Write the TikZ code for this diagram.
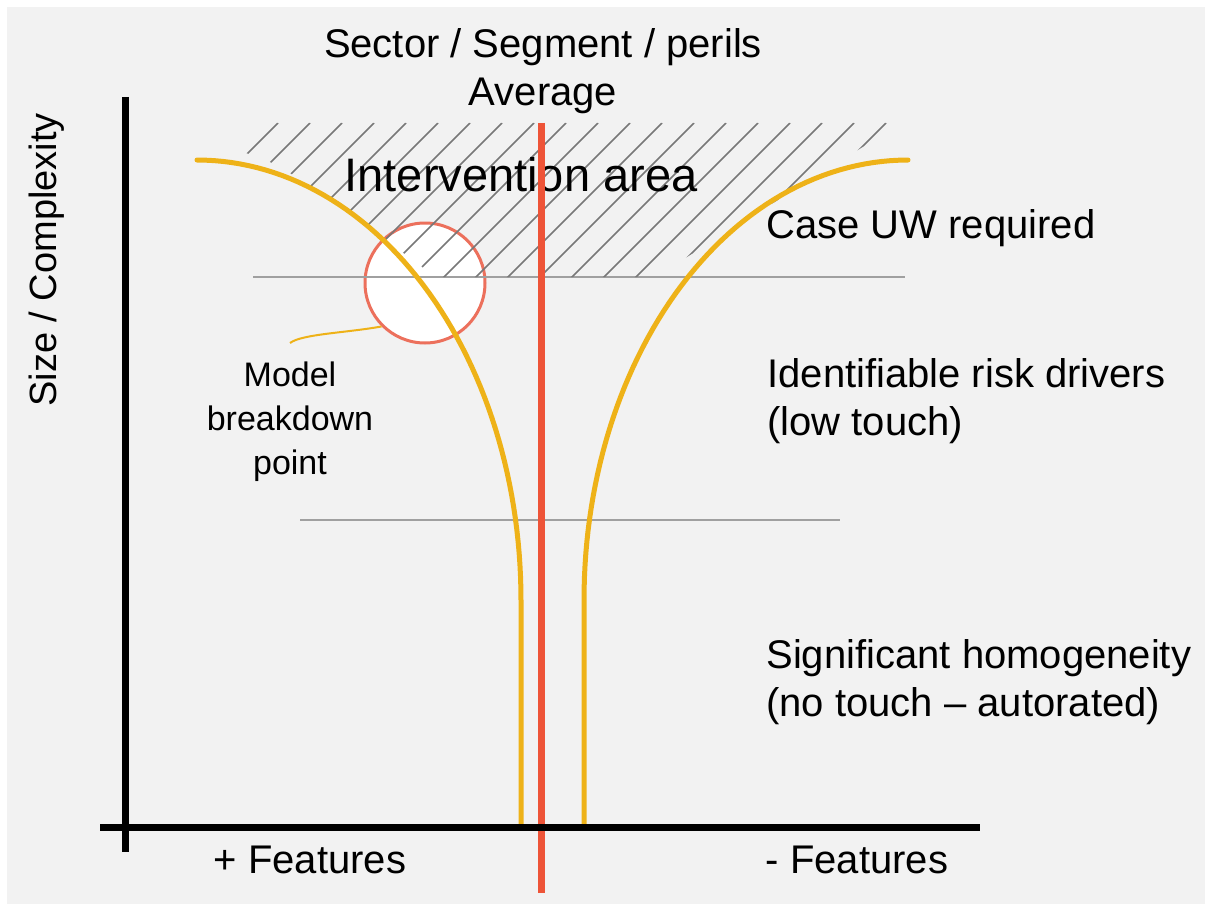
\documentclass[tikz,border=0pt]{standalone}
\usepackage{fontspec}
\setmainfont{Liberation Sans}
\definecolor{bggray}{RGB}{242,242,242}
\definecolor{funnelyellow}{RGB}{238,178,24}
\definecolor{avgred}{RGB}{238,84,56}
\definecolor{brkred}{RGB}{236,112,92}
\definecolor{gridgray}{RGB}{160,160,160}
\definecolor{hatchgray}{RGB}{120,120,120}
\tikzset{
  axisline/.style={line width=3.5pt,black},
  avgline/.style={line width=3.5pt,avgred},
  funnel/.style={line width=2.5pt,funnelyellow},
  gridline/.style={line width=1pt,gridgray},
  hatchline/.style={line width=0.8pt,hatchgray},
  brkcircle/.style={circle,draw=brkred,line width=1.5pt,fill=white,minimum size=60pt,inner sep=0pt},
  lead/.style={line width=1pt,funnelyellow},
  lbl/.style={font=\fontsize{20}{24}\selectfont,align=left,inner sep=0pt},
}
\begin{document}
\begin{tikzpicture}[x=0.5pt,y=-0.5pt]
    \useasboundingbox (0,0) rectangle (1205,904);
    \fill[bggray] (7,7) rectangle (1205,904);
    % breakdown circle sits under everything
    \node[brkcircle] (brk) at (425,283) {};
    \draw[gridline] (253,277) -- (905,277);
    \draw[gridline] (300,520) -- (840,520);
    % hatching
    \begin{scope}
        \clip (246,153) -- (274,123) -- (901,123) -- (655,277) -- (432,277) -- (420,265)
            -- (388,242) -- (355,218) -- (330,200) -- (310,187) -- (290,173) -- (270,162) -- cycle;
        \foreach \k in {0,...,19} \draw[hatchline] ({278+32*\k},123) -- ++(-170,170);
    \end{scope}
    \node[font=\fontsize{23.5}{28}\selectfont,inner sep=0pt] (interv) at (521,175) {Intervention area};
    % funnel
    \draw[funnel,line cap=round] plot[domain=-90:0,samples=60] ({197+324*cos(\x)},{600+440*sin(\x)}) -- (521,826);
    \draw[funnel,line cap=round] plot[domain=-90:0,samples=60] ({908-324*cos(\x)},{600+440*sin(\x)}) -- (584,826);
    \draw[avgline] (541,123) -- (541,893);
    \draw[axisline] (125,97) -- (125,852);
    \draw[axisline] (100,827) -- (980,827);
    \node[lbl,align=center] (title) at (543,71) {Sector / Segment / perils\\Average};
    \node[lbl,anchor=west] (caseuw) at (766,228) {Case UW required};
    \node[lbl,anchor=west] (lowtouch) at (767,401) {Identifiable risk drivers\\(low touch)};
    \node[lbl,anchor=west] (notouch) at (766,682) {Significant homogeneity\\(no touch -- autorated)};
    \node[lbl,rotate=90,font=\fontsize{19}{23}\selectfont] (ylab) at (47,260) {Size / Complexity};
    \node[lbl] (plusf) at (310,860) {+ Features};
    \node[lbl] (minusf) at (857,860) {- Features};
    \node[lbl,align=center,font=\fontsize{17}{22}\selectfont] (brklab) at (290,422) {Model\\breakdown\\point};
    \coordinate (leadend) at (290,343);
    \draw[lead] (leadend) .. controls (302,334) and (345,333) .. (brk.225);
\end{tikzpicture}
\end{document}
